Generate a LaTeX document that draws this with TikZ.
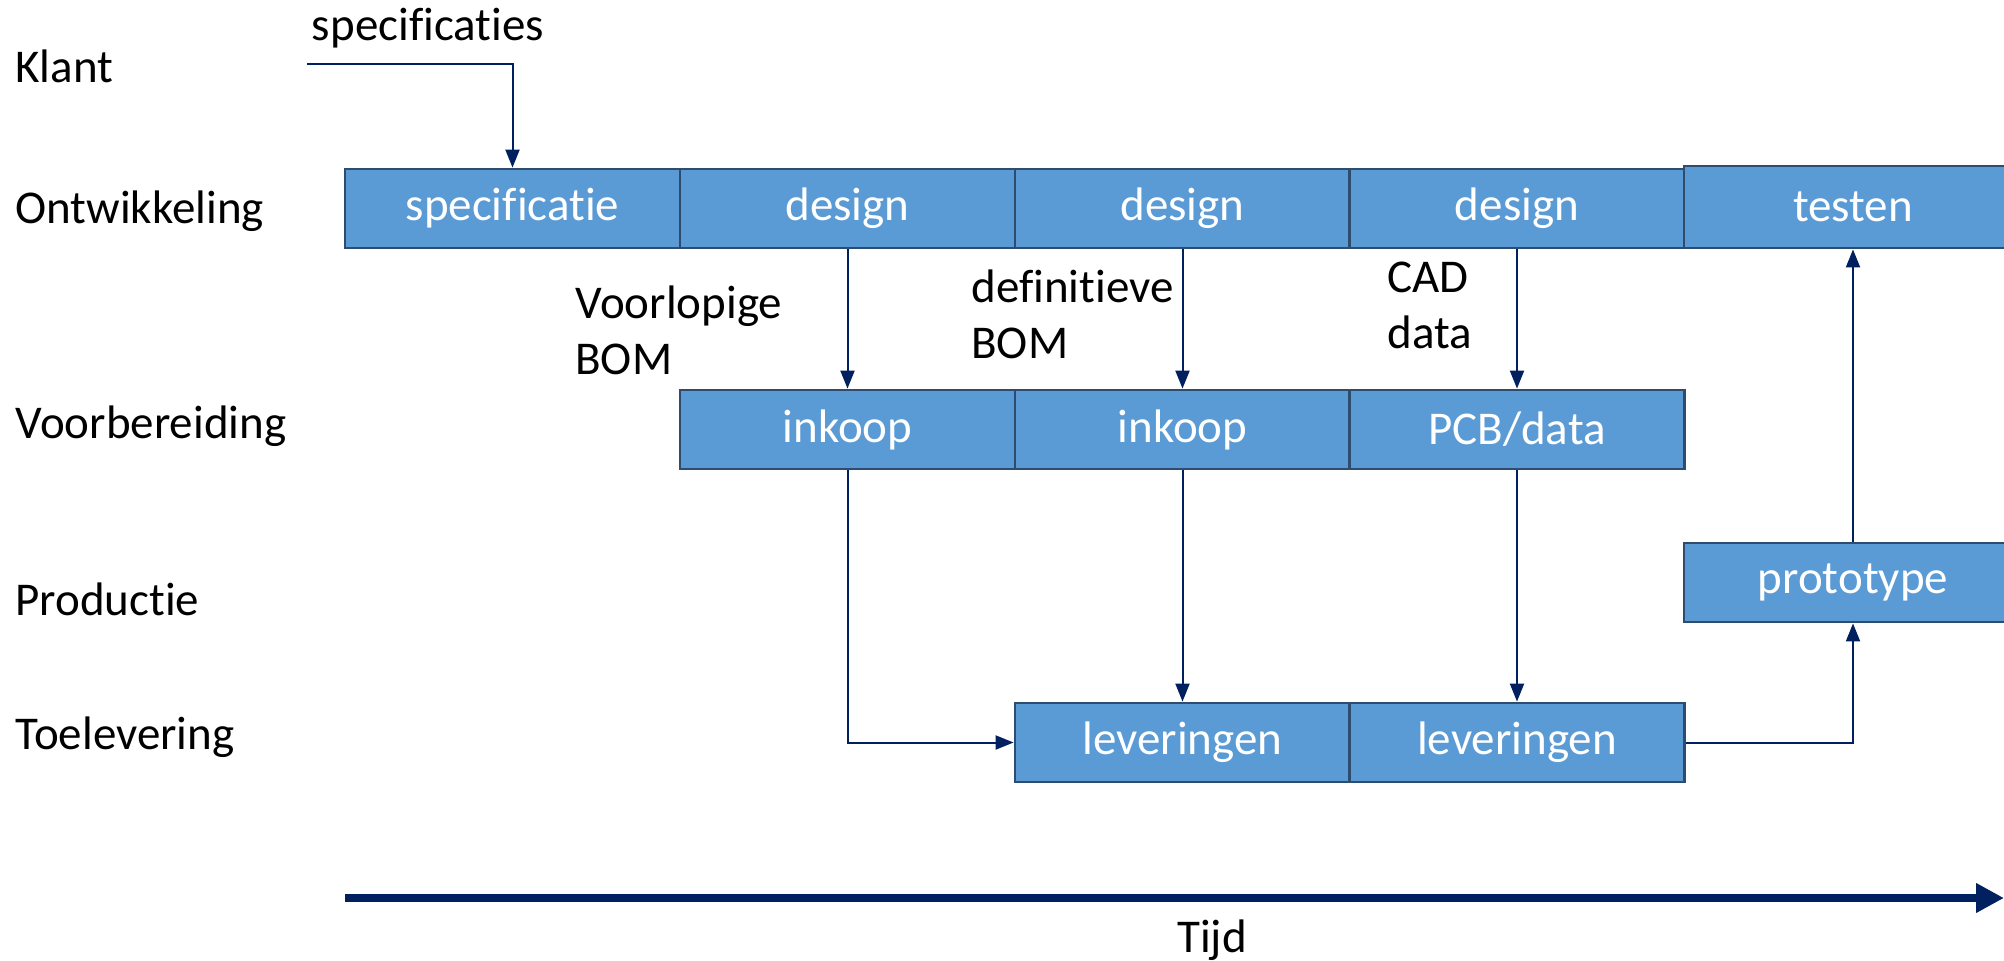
\documentclass[tikz,border=0pt]{standalone}
\usepackage{fontspec}
\setmainfont[Ligatures=CommonOff]{Carlito}
\usetikzlibrary{arrows.meta}
\definecolor{boxfill}{HTML}{5B9BD5}
\definecolor{boxline}{HTML}{2E4C6E}
\definecolor{navy}{HTML}{002060}
\begin{document}
\begin{tikzpicture}[x=0.5pt,y=-0.5pt,
  every node/.style={font=\fontsize{23.5}{28}\selectfont},
  box/.style={draw=boxline, line width=1.4pt, fill=boxfill, text=white, inner sep=0pt,
    minimum width=167.5pt, minimum height=39.5pt},
  lbl/.style={anchor=west, inner sep=0pt, text=black},
  note/.style={anchor=north west, inner sep=0pt, align=left, text=black},
  arr/.style={draw=navy, line width=1pt, -{Triangle[length=9pt,width=7pt]}}]
\useasboundingbox (0,0) rectangle (2004,960);
% row labels
\node[lbl] (klant) at (15,66) {Klant};
\node[lbl] (ontw) at (15,211) {Ontwikkeling};
\node[lbl] (voorb) at (15,426) {Voorbereiding};
\node[lbl] (prod) at (15,599) {Productie};
\node[lbl] (toel) at (15,737) {Toelevering};
% row 1
\node[box] (spec) at (512.5,208.5) {specificatie};
\node[box] (d1) at (847.5,208.5) {design};
\node[box] (d2) at (1182.5,208.5) {design};
\node[box] (d3) at (1517,208.5) {design};
\node[box, minimum width=169pt, minimum height=41pt] (test) at (1853,207) {testen};
% row 2
\node[box] (i1) at (847.5,429.5) {inkoop};
\node[box] (i2) at (1182.5,429.5) {inkoop};
\node[box] (pcb) at (1517,429.5) {PCB/data};
% row 3
\node[box, minimum width=169pt] (proto) at (1853,582.5) {prototype};
% row 4
\node[box] (l1) at (1182.5,742.5) {leveringen};
\node[box] (l2) at (1517,742.5) {leveringen};
% notes
\node[inner sep=0pt, text=black] (specs) at (428,28) {specificaties};
\node[note] (n1) at (575,285) {Voorlopige\\BOM};
\node[note] (n2) at (971,269) {definitieve\\BOM};
\node[note] (n3) at (1387,262) {CAD\\data};
% connectors
\coordinate (kstart) at (307,64);
\draw[arr] (kstart) -| (spec.north);
\draw[arr] (d1.south) -- (i1.north);
\draw[arr] (d2.south) -- (i2.north);
\draw[arr] (d3.south) -- (pcb.north);
\draw[arr] (i1.south -| d1.south) |- (l1.west);
\draw[arr] (i2.south) -- (l1.north);
\draw[arr] (pcb.south) -- (l2.north);
\draw[arr] (l2.east) -| (proto.south);
\draw[arr] (proto.north) -- (test.south);
% time axis
\coordinate (t0) at (345,898);
\coordinate (t1) at (2004,898);
\draw[draw=navy, line width=4pt, -{Triangle[length=14pt,width=14pt]}] (t0) -- (t1);
\node[inner sep=0pt, text=black] (tijd) at (1212,940) {Tijd};
\end{tikzpicture}
\end{document}
